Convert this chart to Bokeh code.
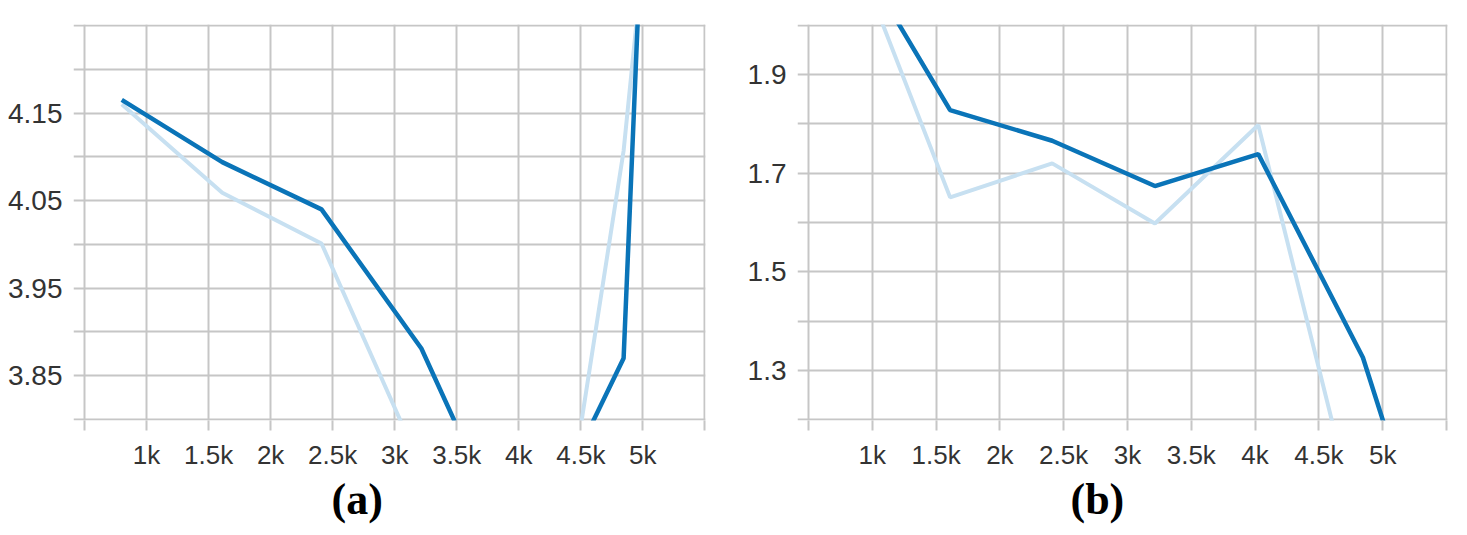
from bokeh.plotting import figure
from bokeh.layouts import row
from bokeh.models import FixedTicker, Title, Range1d
from bokeh.embed import file_html
from bokeh.resources import INLINE

# ---- data ----
steps = [800, 1610, 2410, 3215, 4025, 4845, 5650]

a_smoothed = [4.165, 4.094, 4.040, 3.881, 3.630, 3.870, 6.600]
a_raw = [4.160, 4.059, 4.001, 3.745, 3.360, 4.107, 5.240]

b_smoothed = [2.180, 1.828, 1.766, 1.674, 1.739, 1.326, 0.670]
b_raw = [2.190, 1.651, 1.720, 1.598, 1.798, 0.945, 0.600]

x_ticks = [500, 1000, 1500, 2000, 2500, 3000, 3500, 4000, 4500, 5000, 5500]
x_tick_labels = ["", "1k", "1.5k", "2k", "2.5k", "3k", "3.5k", "4k", "4.5k", "5k", ""]

a_y_label_ticks = [3.85, 3.95, 4.05, 4.15]
a_y_grid = [3.80, 3.85, 3.90, 3.95, 4.00, 4.05, 4.10, 4.15, 4.20, 4.25]

b_y_label_ticks = [1.3, 1.5, 1.7, 1.9]
b_y_grid = [1.2, 1.3, 1.4, 1.5, 1.6, 1.7, 1.8, 1.9, 2.0]

panel_titles = ["(a)", "(b)"]

DARK = "#0a74b8"
LIGHT = "#c7e0f1"
GRID = "#c6c6c6"
TEXT = "#333333"


def make_panel(width, border_left, border_right, xr, yr, raw, smooth,
               ylabel_ticks, ygrid, title, title_offset):
    p = figure(width=width, height=535, output_backend="svg",
               toolbar_location=None, x_range=Range1d(*xr), y_range=Range1d(*yr),
               min_border_left=border_left, min_border_right=border_right,
               min_border_top=24, min_border_bottom=115)
    p.outline_line_color = None
    p.background_fill_color = "white"
    p.border_fill_color = "white"

    p.line(steps, raw, line_color=LIGHT, line_width=4)
    p.line(steps, smooth, line_color=DARK, line_width=4.5)

    # grid
    p.xgrid.ticker = FixedTicker(ticks=x_ticks)
    p.ygrid.ticker = FixedTicker(ticks=ygrid)
    for g in (p.xgrid, p.ygrid):
        g.grid_line_color = GRID
        g.grid_line_width = 2

    # x axis
    xa = p.xaxis[0]
    xa.ticker = FixedTicker(ticks=x_ticks)
    xa.major_label_overrides = dict(zip(x_ticks, x_tick_labels))
    xa.axis_line_color = None
    xa.major_tick_in = 0
    xa.major_tick_out = 10
    xa.major_tick_line_color = GRID
    xa.major_tick_line_width = 2
    xa.minor_tick_line_color = None
    xa.major_label_standoff = 9
    xa.major_label_text_font = "Liberation Sans"
    xa.major_label_text_font_size = "26px"
    xa.major_label_text_color = TEXT

    # y axis
    ya = p.yaxis[0]
    ya.ticker = FixedTicker(ticks=ylabel_ticks)
    ya.axis_line_color = None
    ya.major_tick_line_color = None
    ya.minor_tick_line_color = None
    ya.major_tick_in = 0
    ya.major_tick_out = 0
    ya.major_label_standoff = 11
    ya.major_label_text_font = "Liberation Sans"
    ya.major_label_text_font_size = "28px"
    ya.major_label_text_color = TEXT

    t = Title(text=title, align="left", offset=title_offset,
              text_font="Liberation Serif", text_font_style="bold",
              text_font_size="44px", text_color="black", standoff=0)
    p.add_layout(t, "below")
    return p


pa = make_panel(715, 73, 10, (411, 5505), (3.7988, 4.2512),
                a_raw, a_smoothed, a_y_label_ticks, a_y_grid,
                panel_titles[0], 258)
pb = make_panel(748, 82, 16, (414, 5508), (1.198, 2.002),
                b_raw, b_smoothed, b_y_label_ticks, b_y_grid,
                panel_titles[1], 273)

layout = row(pa, pb)
open("out.html", "w").write(file_html(layout, INLINE))
